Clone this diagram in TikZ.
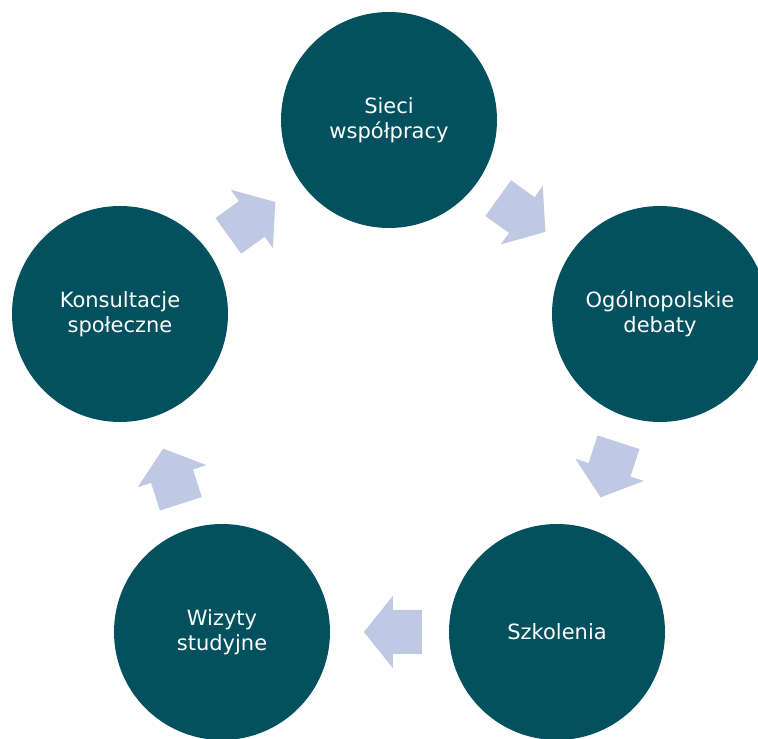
\documentclass[tikz,border=0pt]{standalone}
\usepackage{fontspec}
\setmainfont{DejaVu Sans}
\usetikzlibrary{calc}
\definecolor{circc}{RGB}{3,80,94}
\definecolor{arrc}{RGB}{191,201,227}
\begin{document}
\begin{tikzpicture}[x=1pt,y=1pt,
  stage/.style={circle, fill=circc, minimum size=216pt, inner sep=0pt, text=white, align=center, font=\fontsize{21}{25}\selectfont},
  blockarrow/.style={fill=arrc}]
\useasboundingbox (0,0) rectangle (758,739);
\clip (0,0) rectangle (758,739);
\node[stage] (a) at (389,619) {Sieci\\współpracy};
\node[stage] (b) at (660,425) {Ogólnopolskie\\debaty};
\node[stage] (c) at (557,107) {Szkolenia};
\node[stage] (d) at (222,107) {Wizyty\\studyjne};
\node[stage] (e) at (120,425) {Konsultacje\\społeczne};
\foreach \s/\t in {a/b,b/c,c/d,d/e,e/a}{
  \path (\s.center) -- (\t.center) coordinate[pos=0.49] (m\s);
  \pgfmathanglebetweenpoints{\pgfpointanchor{\s}{center}}{\pgfpointanchor{\t}{center}}
  \edef\myang{\pgfmathresult}
  \fill[blockarrow, shift={(m\s)}, rotate=\myang] (-29,22) -- (0,22) -- (0,36) -- (29,0) -- (0,-36) -- (0,-22) -- (-29,-22) -- cycle;
}
\end{tikzpicture}
\end{document}
